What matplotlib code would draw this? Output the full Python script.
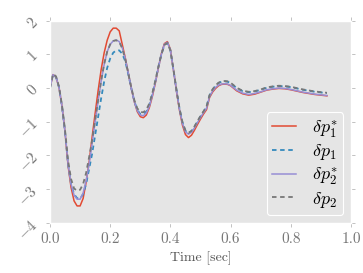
import matplotlib
matplotlib.use('Agg')
import matplotlib.pyplot as plt

plt.style.use('ggplot')
plt.rcParams['font.family'] = ['cmr10']
plt.rcParams['mathtext.fontset'] = 'cm'
plt.rcParams['axes.formatter.use_mathtext'] = True

# time axis (sec)
t = [0.00, 0.01, 0.02, 0.03, 0.04, 0.05, 0.06, 0.07, 0.08, 0.09,
     0.10, 0.11, 0.12, 0.13, 0.14, 0.15, 0.16, 0.17, 0.18, 0.19,
     0.20, 0.21, 0.22, 0.23, 0.24, 0.25, 0.26, 0.27, 0.28, 0.29,
     0.30, 0.31, 0.32, 0.33, 0.34, 0.35, 0.36, 0.37, 0.38, 0.39,
     0.40, 0.41, 0.42, 0.43, 0.44, 0.45, 0.46, 0.47, 0.48, 0.49,
     0.50, 0.51, 0.52, 0.53, 0.54, 0.55, 0.56, 0.57, 0.58, 0.59,
     0.60, 0.62, 0.64, 0.66, 0.68, 0.70, 0.72, 0.74, 0.76, 0.78,
     0.80, 0.82, 0.84, 0.86, 0.88, 0.90, 0.92]

# delta p1* (red)
p1_star = [0.00, 0.40, 0.33, 0.02, -0.55, -1.30, -2.30, -2.95, -3.35, -3.50,
           -3.50, -3.28, -2.80, -2.20, -1.45, -0.75, -0.07, 0.55, 1.05, 1.42,
           1.67, 1.78, 1.78, 1.70, 1.30, 0.90, 0.45, 0.00, -0.40, -0.70,
           -0.85, -0.88, -0.80, -0.58, -0.25, 0.15, 0.60, 1.02, 1.32, 1.38,
           1.15, 0.55, -0.08, -0.65, -1.10, -1.38, -1.47, -1.40, -1.25, -1.08,
           -0.92, -0.77, -0.64, -0.28, -0.12, -0.01, 0.07, 0.11, 0.12, 0.11,
           0.07, -0.08, -0.17, -0.21, -0.18, -0.12, -0.06, -0.03, -0.01, -0.02,
           -0.05, -0.09, -0.13, -0.16, -0.19, -0.21, -0.23]

# delta p1 (blue, dashed)
p1 = [0.00, 0.40, 0.33, 0.02, -0.55, -1.30, -2.25, -2.85, -3.15, -3.27,
      -3.28, -3.15, -2.85, -2.40, -1.95, -1.40, -0.85, -0.30, 0.20, 0.60,
      0.88, 1.05, 1.12, 1.12, 1.02, 0.80, 0.42, 0.00, -0.38, -0.65,
      -0.77, -0.78, -0.70, -0.50, -0.18, 0.20, 0.62, 1.00, 1.28, 1.34,
      1.12, 0.55, -0.05, -0.60, -1.02, -1.27, -1.34, -1.28, -1.15, -0.99,
      -0.84, -0.70, -0.56, -0.22, -0.05, 0.07, 0.15, 0.19, 0.20, 0.19,
      0.15, 0.00, -0.09, -0.12, -0.10, -0.05, 0.01, 0.04, 0.06, 0.05,
      0.03, -0.01, -0.05, -0.08, -0.11, -0.13, -0.15]

# delta p2* (purple)
p2_star = [0.00, 0.40, 0.33, 0.02, -0.55, -1.30, -2.25, -2.85, -3.18, -3.30,
           -3.30, -3.12, -2.75, -2.25, -1.65, -1.00, -0.38, 0.20, 0.70, 1.08,
           1.30, 1.40, 1.43, 1.38, 1.20, 0.88, 0.45, 0.00, -0.40, -0.67,
           -0.80, -0.82, -0.74, -0.54, -0.22, 0.17, 0.60, 1.00, 1.30, 1.36,
           1.13, 0.55, -0.06, -0.62, -1.05, -1.30, -1.37, -1.31, -1.18, -1.02,
           -0.87, -0.73, -0.60, -0.25, -0.09, 0.02, 0.09, 0.12, 0.13, 0.12,
           0.08, -0.06, -0.15, -0.19, -0.16, -0.11, -0.05, -0.02, 0.00, -0.01,
           -0.04, -0.08, -0.12, -0.15, -0.18, -0.20, -0.22]

# delta p2 (gray, dashed)
p2 = [0.00, 0.42, 0.35, 0.04, -0.52, -1.25, -2.15, -2.70, -2.98, -3.05,
      -3.02, -2.85, -2.52, -2.05, -1.55, -0.95, -0.35, 0.22, 0.72, 1.08,
      1.30, 1.40, 1.42, 1.37, 1.18, 0.86, 0.44, 0.02, -0.35, -0.60,
      -0.71, -0.72, -0.64, -0.46, -0.15, 0.22, 0.63, 1.00, 1.28, 1.34,
      1.12, 0.56, -0.04, -0.59, -1.01, -1.26, -1.33, -1.27, -1.14, -0.98,
      -0.83, -0.69, -0.55, -0.21, -0.04, 0.08, 0.16, 0.20, 0.21, 0.20,
      0.16, 0.01, -0.08, -0.11, -0.09, -0.04, 0.02, 0.05, 0.07, 0.06,
      0.04, 0.00, -0.04, -0.07, -0.10, -0.12, -0.14]

labels = [r'$\delta p_1^{*}$', r'$\delta p_1$', r'$\delta p_2^{*}$', r'$\delta p_2$']

fig = plt.figure(figsize=(3.63, 2.73), dpi=100)
ax = fig.add_axes([0.1377, 0.184, 0.8293, 0.740])

ax.plot(t, p1_star, color='#E24A33', lw=1.1, label=labels[0])
ax.plot(t, p1, color='#348ABD', lw=1.3, ls='--', dashes=(2.5, 2), label=labels[1])
ax.plot(t, p2_star, color='#988ED5', lw=1.1, label=labels[2])
ax.plot(t, p2, color='#777777', lw=1.3, ls='--', dashes=(2.5, 2), label=labels[3])

ax.set_xlim(0, 1.0)
ax.set_ylim(-4, 2)
ax.set_xticks([0.0, 0.2, 0.4, 0.6, 0.8, 1.0])
ax.set_xticklabels(['0.0', '0.2', '0.4', '0.6', '0.8', '1.0'])
ax.set_yticks([-4, -3, -2, -1, 0, 1, 2])
ax.set_yticklabels([r'$-4$', r'$-3$', r'$-2$', r'$-1$', r'$0$', r'$1$', r'$2$'])
ax.grid(False)
ax.set_facecolor('#E5E5E5')
ax.tick_params(direction='out', length=3, width=0.5, colors='#aaaaaa',
               labelcolor='#777777', labelsize=11, top=True, right=True)
for lbl in ax.get_yticklabels():
    lbl.set_rotation(45)

ax.set_xlabel('Time [sec]', fontsize=10, color='#555555')

leg = ax.legend(loc='lower right', fontsize=13, frameon=True, facecolor='#E5E5E5',
                edgecolor='white', framealpha=1.0, handlelength=1.33,
                handletextpad=0.9, labelspacing=0.15, borderaxespad=0.42,
                borderpad=0.3)
leg.get_frame().set_linewidth(0.8)

fig.savefig('out.png', dpi=100)
